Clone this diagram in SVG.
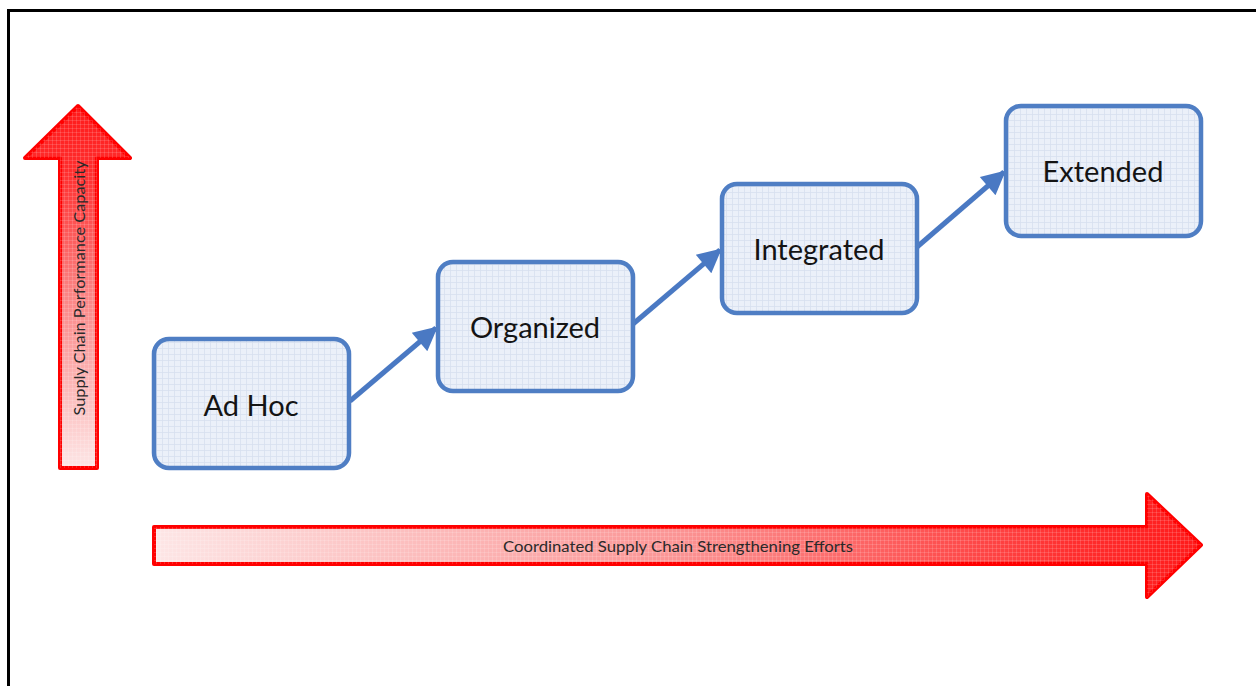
<svg xmlns="http://www.w3.org/2000/svg" width="1256" height="686" viewBox="0 0 1256 686">
  <defs>
    <pattern id="grid" width="6" height="6" patternUnits="userSpaceOnUse">
      <rect width="6" height="6" fill="#ebf0f9"/>
      <path d="M0 0.5H6M0.5 0V6" stroke="#d7e0ef" stroke-width="0.8" fill="none"/>
    </pattern>
    <pattern id="redgrid" width="4" height="4" patternUnits="userSpaceOnUse">
      <path d="M0 0.5H4M0.5 0V4" stroke="#ffffff" stroke-opacity="0.18" stroke-width="0.8" fill="none"/>
    </pattern>
    <linearGradient id="vgrad" x1="0" y1="1" x2="0" y2="0">
      <stop offset="0" stop-color="#fde6e6"/>
      <stop offset="0.5" stop-color="#fb7f7f"/>
      <stop offset="0.82" stop-color="#ff2e2e"/>
      <stop offset="1" stop-color="#ff1a1a"/>
    </linearGradient>
    <linearGradient id="hgrad" x1="0" y1="0" x2="1" y2="0">
      <stop offset="0" stop-color="#fde6e6"/>
      <stop offset="0.5" stop-color="#fb9494"/>
      <stop offset="0.88" stop-color="#ff2e2e"/>
      <stop offset="1" stop-color="#ff1a1a"/>
    </linearGradient>
    <marker id="ah" viewBox="0 0 10 10" refX="9" refY="5" markerUnits="userSpaceOnUse" markerWidth="26" markerHeight="24" orient="auto">
      <path d="M0 0L10 5L0 10Z" fill="#4a79c3"/>
    </marker>
    <style>
      .node rect { fill: url(#grid); stroke: #4f7ec4; stroke-width: 4.5; }
      .node text { font-family: "Lato", "Open Sans", "Liberation Sans", sans-serif; font-size: 29px; fill: #141414; text-anchor: middle; dominant-baseline: central; }
      .conn line { stroke: #4a79c3; stroke-width: 5; marker-end: url(#ah); }
      .big { stroke: #ff0000; stroke-width: 4; stroke-linejoin: round; }
      .axis { font-family: "Lato", "Open Sans", "Liberation Sans", sans-serif; font-size: 15px; fill: #2a2a2a; text-anchor: middle; dominant-baseline: central; }
    </style>
  </defs>
  <rect x="0" y="0" width="1256" height="686" fill="#ffffff"/>
  <rect x="8.5" y="10.5" width="1260" height="690" fill="none" stroke="#000" stroke-width="3"/>

  <g id="axis-vertical">
    <path class="big" d="M60 468L60 158L25 158L78 106L130 158L97 158L97 468Z" fill="url(#vgrad)"/>
    <path d="M60 468L60 158L25 158L78 106L130 158L97 158L97 468Z" fill="url(#redgrid)"/>
    <text class="axis" transform="translate(79 288) rotate(-90)" textLength="255" lengthAdjust="spacingAndGlyphs">Supply Chain Performance Capacity</text>
  </g>

  <g id="axis-horizontal">
    <path class="big" d="M154 527L1147 527L1147 494L1201 545L1147 597L1147 564L154 564Z" fill="url(#hgrad)"/>
    <path d="M154 527L1147 527L1147 494L1201 545L1147 597L1147 564L154 564Z" fill="url(#redgrid)"/>
    <text class="axis" x="678" y="546" textLength="350" lengthAdjust="spacingAndGlyphs">Coordinated Supply Chain Strengthening Efforts</text>
  </g>

  <g id="connectors" class="conn">
    <line x1="350" y1="401" x2="436" y2="328"/>
    <line x1="633" y1="324" x2="720" y2="250"/>
    <line x1="917" y1="247" x2="1004" y2="172"/>
  </g>

  <g id="node-adhoc" class="node">
    <rect x="154" y="339" width="195" height="129" rx="15"/>
    <text x="251" y="404">Ad Hoc</text>
  </g>
  <g id="node-organized" class="node">
    <rect x="438" y="262" width="195" height="129" rx="15"/>
    <text x="535" y="326">Organized</text>
  </g>
  <g id="node-integrated" class="node">
    <rect x="722" y="184" width="195" height="129" rx="15"/>
    <text x="819" y="248">Integrated</text>
  </g>
  <g id="node-extended" class="node">
    <rect x="1006" y="106" width="195" height="130" rx="15"/>
    <text x="1103" y="170">Extended</text>
  </g>
</svg>
